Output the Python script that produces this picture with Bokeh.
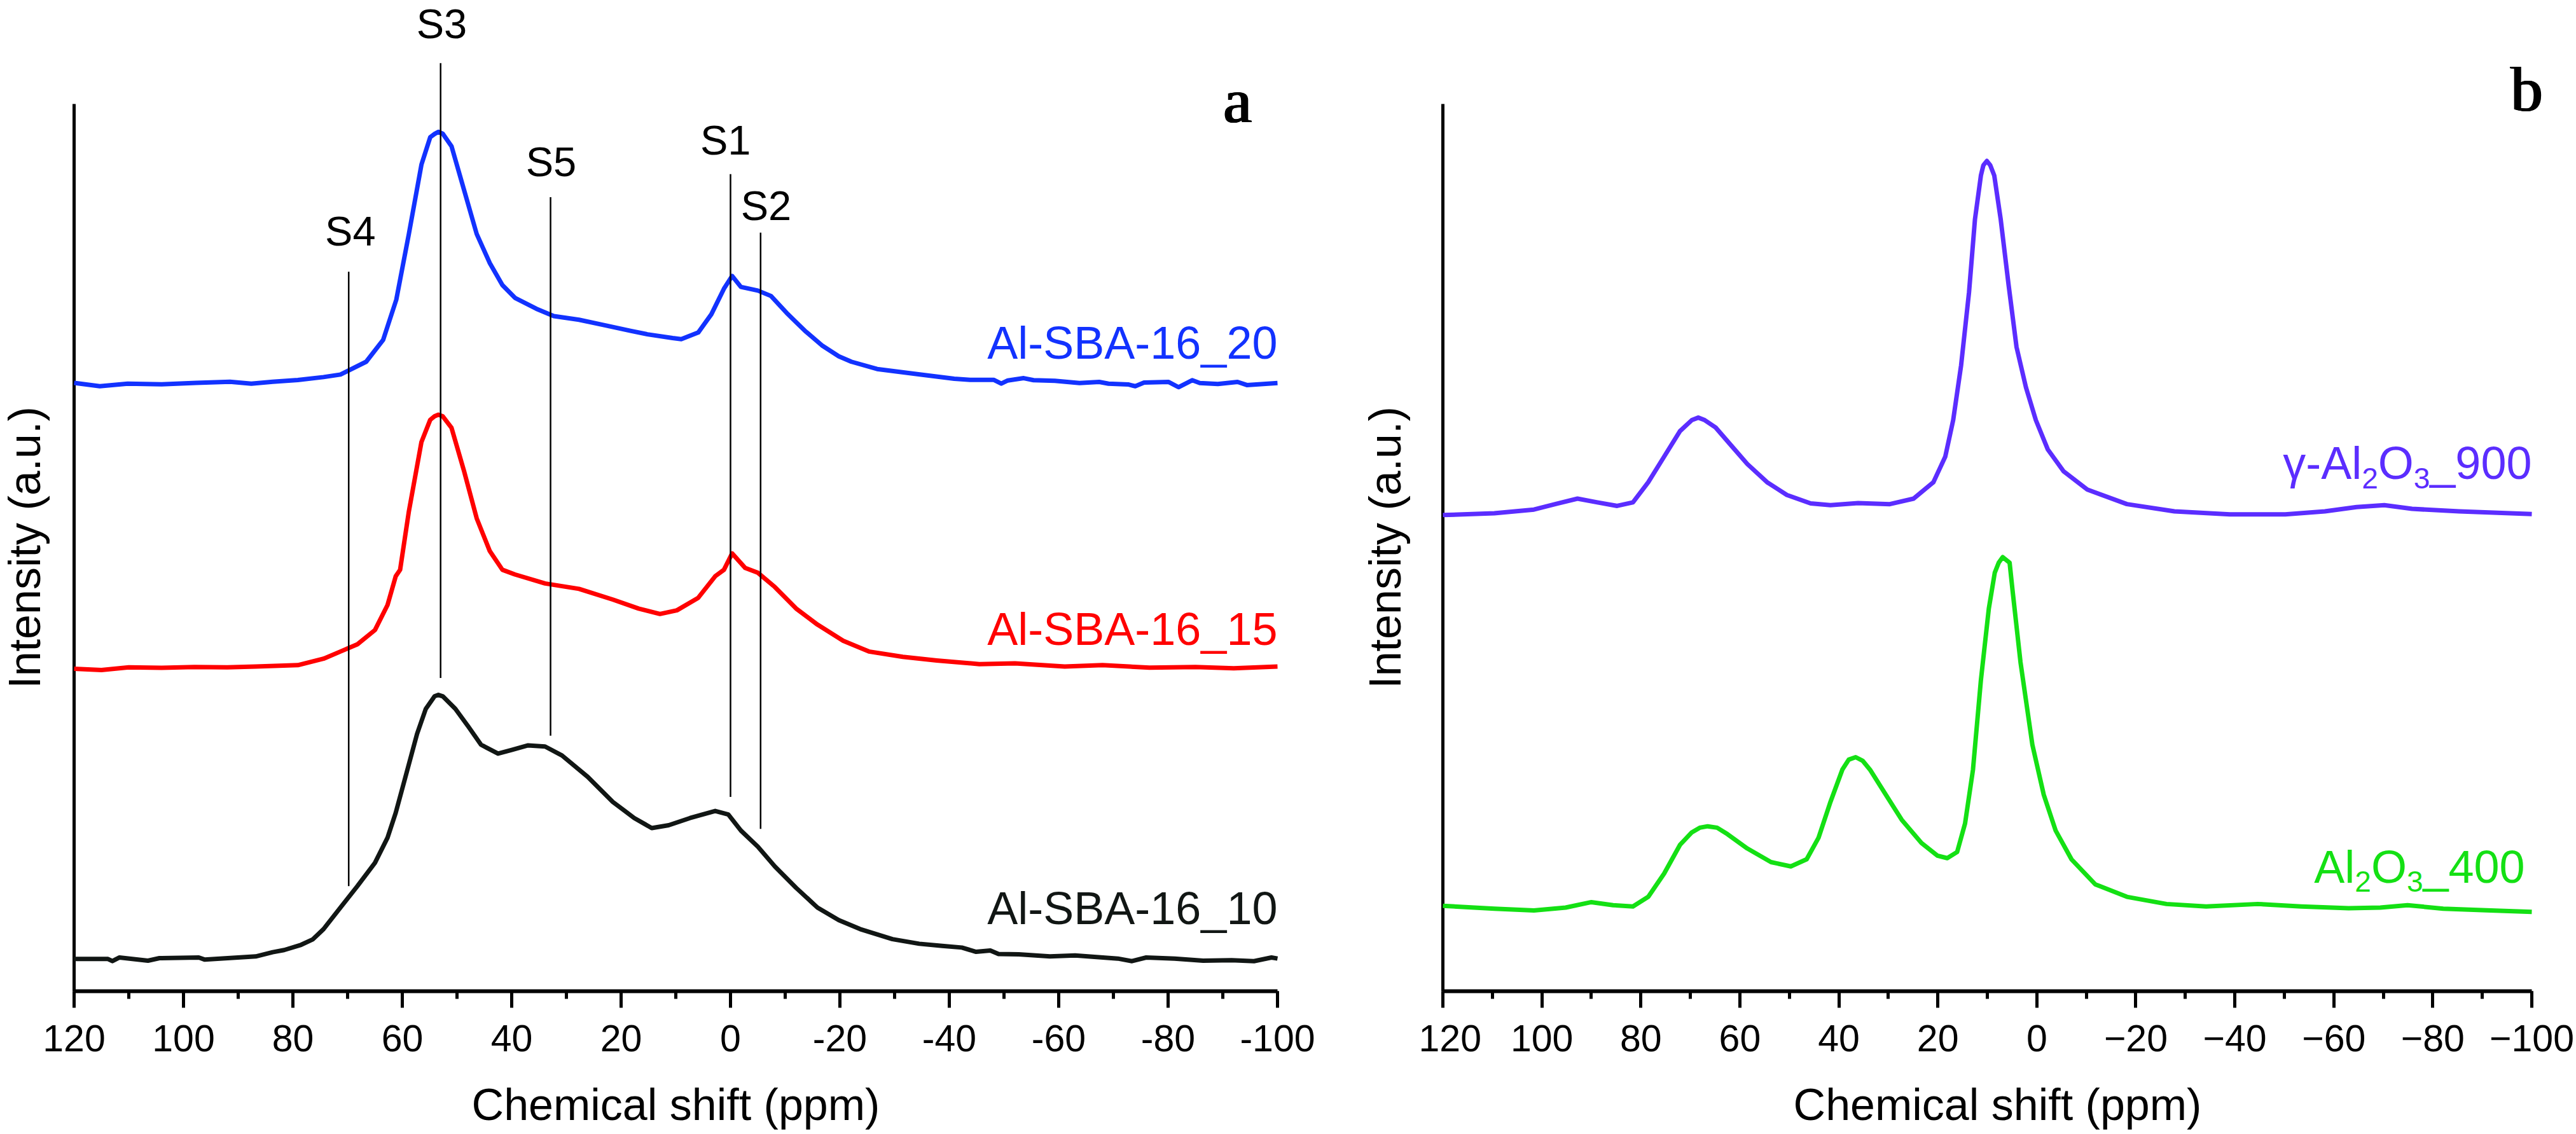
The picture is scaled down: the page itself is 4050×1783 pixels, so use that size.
from math import pi

from bokeh.core.properties import value
from bokeh.embed import file_html
from bokeh.layouts import row
from bokeh.models import Range1d, SingleIntervalTicker
from bokeh.plotting import figure
from bokeh.resources import INLINE

# ---------------------------------------------------------------------------
# 27Al MAS NMR spectra (stacked, arbitrary intensity units)
# ---------------------------------------------------------------------------

# Panel a: Al-SBA-16 samples
sba20_ppm = [120, 115.3, 110.2, 104.0, 97.7, 91.5, 87.6, 83.7, 79.1, 74.4, 71.3, 66.6, 63.5,
             61.1, 58.8, 56.5, 54.9, 54.1, 53.4, 52.6, 51.0, 48.7, 46.4, 44.0, 41.7, 39.4,
             35.5, 32.3, 27.7, 23.0, 18.3, 15.2, 10.6, 9.0, 5.9, 3.5, 1.2, -0.3, -1.9, -5.0,
             -7.4, -10.5, -13.6, -16.7, -19.8, -22.1, -26.8, -34.6, -40.9, -43.8, -48.1,
             -49.5, -50.7, -53.6, -55.4, -59.3, -63.8, -67.4, -69.1, -72.7, -74.0, -75.6,
             -80.1, -81.9, -84.4, -85.8, -89.1, -92.7, -94.4, -100]
sba20_int = [68.56, 68.19, 68.48, 68.40, 68.56, 68.69, 68.48, 68.69, 68.89, 69.22, 69.51,
             70.95, 73.42, 77.94, 85.35, 93.17, 96.25, 96.62, 96.87, 96.65, 95.23, 90.29,
             85.35, 82.06, 79.59, 78.15, 76.92, 76.09, 75.68, 75.06, 74.44, 74.04, 73.62,
             73.50, 74.24, 76.30, 79.18, 80.62, 79.38, 78.97, 78.36, 76.30, 74.44, 72.80,
             71.56, 70.95, 70.13, 69.51, 69.03, 68.91, 68.91, 68.48, 68.84, 69.10, 68.87,
             68.80, 68.55, 68.67, 68.48, 68.39, 68.19, 68.60, 68.67, 68.08, 68.87, 68.55,
             68.44, 68.67, 68.32, 68.55]

sba15_ppm = [120, 115.0, 110.0, 104.0, 98.0, 92.0, 86.8, 79.1, 74.4, 71.3, 68.2, 65.0, 62.7,
             61.2, 60.4, 58.8, 56.5, 54.9, 54.1, 53.4, 52.6, 51.0, 48.7, 46.4, 44.0, 41.7,
             39.4, 33.9, 27.7, 21.5, 16.8, 12.9, 9.8, 5.9, 2.8, 1.2, -0.3, -2.7, -5.0, -8.1,
             -12.0, -15.9, -20.6, -25.3, -31.5, -37.7, -45.5, -52.0, -61.1, -68.0, -76.6,
             -85.0, -92.0, -100]
sba15_int = [36.35, 36.20, 36.50, 36.45, 36.55, 36.50, 36.60, 36.75, 37.48, 38.29, 39.10,
             40.71, 43.53, 46.77, 47.50, 54.08, 61.90, 64.40, 64.80, 64.98, 64.80, 63.50,
             58.60, 53.30, 49.60, 47.50, 46.97, 45.96, 45.35, 44.14, 43.13, 42.52, 42.93,
             44.34, 46.77, 47.50, 49.35, 47.70, 47.17, 45.56, 43.13, 41.32, 39.50, 38.29,
             37.69, 37.28, 36.87, 36.95, 36.60, 36.75, 36.47, 36.55, 36.40, 36.60]

sba10_ppm = [120, 113.8, 113.0, 111.7, 106.5, 104.4, 97.2, 96.1, 86.8, 83.7, 81.6, 78.5,
             76.4, 74.4, 71.3, 68.2, 65.0, 62.7, 61.2, 59.6, 57.3, 55.7, 54.1, 53.4, 52.6,
             50.3, 47.9, 45.6, 42.5, 40.1, 37.0, 33.9, 30.8, 26.1, 21.5, 17.6, 14.4, 11.3,
             7.4, 2.8, 0.4, -1.9, -5.0, -8.1, -12.0, -15.9, -19.8, -23.7, -29.6, -34.5,
             -38.7, -42.3, -44.9, -47.5, -49.0, -52.7, -58.4, -63.0, -70.8, -73.4, -76.0,
             -81.2, -86.4, -91.6, -95.7, -98.9, -100]
sba10_int = [3.63, 3.63, 3.39, 3.80, 3.44, 3.73, 3.80, 3.56, 3.92, 4.40, 4.64, 5.23, 5.83,
             7.00, 9.43, 11.85, 14.47, 17.30, 20.12, 23.76, 29.00, 31.83, 33.24, 33.40, 33.24,
             31.83, 29.80, 27.78, 26.78, 27.18, 27.71, 27.58, 26.57, 24.16, 21.33, 19.52,
             18.39, 18.71, 19.52, 20.32, 19.92, 18.11, 16.29, 14.07, 11.65, 9.43, 8.01,
             7.00, 5.87, 5.35, 5.11, 4.92, 4.44, 4.59, 4.20, 4.16, 3.92, 4.04, 3.68, 3.39,
             3.80, 3.68, 3.44, 3.49, 3.39, 3.80, 3.68]

# Panel b: alumina references
g900_ppm = [120, 109.6, 101.6, 96.8, 92.8, 88.8, 84.8, 81.6, 78.5, 75.3, 72.1, 69.7, 68.4,
            67.1, 64.9, 61.7, 58.5, 54.5, 50.5, 45.7, 41.7, 36.1, 29.7, 24.9, 20.9, 18.5,
            16.9, 15.3, 13.7, 12.5, 11.3, 10.8, 10.1, 9.4, 8.6, 7.3, 5.7, 4.1, 2.2, 0.2,
            -2.2, -5.4, -10.2, -18.2, -27.8, -39.0, -50.2, -58.2, -64.6, -70.2, -75.8,
            -85.3, -100]
g900_int = [53.67, 53.87, 54.29, 54.98, 55.52, 55.10, 54.70, 55.10, 57.37, 60.25, 63.13,
            64.37, 64.65, 64.37, 63.54, 61.48, 59.43, 57.37, 55.93, 54.98, 54.78, 55.02,
            54.90, 55.52, 57.37, 60.25, 64.37, 70.54, 78.77, 87.00, 91.94, 93.09, 93.58,
            93.09, 91.94, 87.00, 79.59, 72.60, 68.07, 64.37, 61.08, 58.60, 56.54, 54.90,
            54.08, 53.75, 53.75, 54.08, 54.57, 54.78, 54.37, 54.08, 53.79]

a400_ppm = [120, 109.6, 101.6, 95.2, 90.0, 85.6, 81.6, 78.5, 75.3, 72.1, 69.7, 68.1, 66.5,
            64.6, 62.5, 58.5, 53.7, 49.7, 46.5, 44.1, 41.7, 39.3, 38.0, 36.6, 35.2, 33.7,
            30.5, 27.3, 23.3, 20.1, 18.1, 16.1, 14.5, 12.9, 11.3, 9.7, 8.5, 7.7, 6.9, 5.5,
            4.9, 3.3, 0.9, -1.4, -3.8, -7.0, -11.8, -18.2, -26.2, -34.2, -44.6, -53.4,
            -63.0, -69.4, -74.9, -82.1, -91.7, -100]
a400_int = [9.63, 9.30, 9.10, 9.43, 10.04, 9.70, 9.55, 10.64, 13.26, 16.49, 17.91, 18.43,
            18.59, 18.43, 17.70, 16.09, 14.55, 14.07, 14.87, 17.30, 21.33, 24.97, 26.10,
            26.38, 25.98, 24.97, 22.14, 19.32, 16.70, 15.28, 15.00, 15.69, 18.91, 24.97,
            35.06, 43.13, 47.17, 48.30, 48.93, 48.30, 45.15, 37.08, 27.78, 22.14, 18.11,
            14.87, 12.05, 10.64, 9.83, 9.55, 9.83, 9.55, 9.35, 9.43, 9.70, 9.30, 9.10, 8.94]

# Site assignments marked in panel a
site_names = ["S1", "S2", "S3", "S4", "S5"]
site_ppm = [0.0, -5.5, 53.0, 69.8, 32.9]
site_line_top = [92.1, 85.5, 104.6, 81.1, 89.5]
site_line_bottom = [21.9, 18.3, 35.3, 11.85, 28.8]
site_label_ppm = [0.9, -6.5, 52.8, 69.5, 32.8]
site_label_y = [94.5, 87.1, 107.6, 84.3, 92.1]

# Sample names
sba_names = ["Al-SBA-16_20", "Al-SBA-16_15", "Al-SBA-16_10"]
sba_colors = ["#1232ff", "#ff0000", "#111614"]
sba_label_y = [71.5, 39.3, 7.8]

# Axis ticks
tick_values = [120, 100, 80, 60, 40, 20, 0, -20, -40, -60, -80, -100]
tick_labels_a = ["120", "100", "80", "60", "40", "20", "0", "-20", "-40", "-60", "-80", "-100"]
tick_labels_b = ["120", "100", "80", "60", "40", "20", "0", "\u221220", "\u221240",
                 "\u221260", "\u221280", "\u2212100"]

SANS = "Liberation Sans"
SERIF = "Liberation Serif"
LINE_W = 7

# page geometry (pixels)
TOTAL_W = 4050
HEIGHT = 1783
AXIS_Y = 1558         # y of the ppm axis line
BOTTOM = HEIGHT - AXIS_Y
PX_PER_UNIT = 13.95   # vertical scale, pixels per intensity unit
Y_MAX = AXIS_Y / PX_PER_UNIT
PANEL_A_W = 2124
GAP_W = 106
PANEL_B_W = TOTAL_W - PANEL_A_W - GAP_W
# where 120 ppm and -100 ppm sit inside each panel
A_LEFT, A_RIGHT = 116, 2008
B_LEFT, B_RIGHT = 2268 - PANEL_A_W - GAP_W, 3980 - PANEL_A_W - GAP_W


def lift(size_px):
    """Baseline correction (intensity units) for text set on the alphabetic baseline."""
    return 0.3 * size_px / PX_PER_UNIT


def make_panel(width, px_left, px_right, tick_labels):
    ppp = (px_right - px_left) / 220.0
    x_start = 120 + px_left / ppp
    x_end = -100 - (width - px_right) / ppp
    p = figure(width=width, height=HEIGHT,
               x_range=Range1d(x_start, x_end), y_range=Range1d(0, Y_MAX),
               output_backend="svg", toolbar_location=None, y_axis_type=None,
               min_border_left=0, min_border_right=0,
               min_border_top=0, min_border_bottom=BOTTOM)
    p.outline_line_color = None
    p.grid.visible = False
    p.background_fill_color = "white"

    xa = p.xaxis[0]
    xa.bounds = (-100, 120)
    xa.ticker = SingleIntervalTicker(interval=20, num_minor_ticks=2)
    xa.major_label_overrides = dict(zip(tick_values, tick_labels))
    xa.axis_line_width = 6
    xa.axis_line_color = "black"
    xa.major_tick_in = 0
    xa.major_tick_out = 26
    xa.minor_tick_in = 0
    xa.minor_tick_out = 12
    xa.major_tick_line_width = 5
    xa.minor_tick_line_width = 5
    xa.major_label_text_font = SANS
    xa.major_label_text_font_size = "59px"
    xa.major_label_text_color = "black"
    xa.major_label_standoff = 27
    xa.axis_label = "Chemical shift (ppm)"
    xa.axis_label_text_font = SANS
    xa.axis_label_text_font_size = "70px"
    xa.axis_label_text_font_style = "normal"
    xa.axis_label_text_color = "black"
    xa.axis_label_standoff = 42

    # left spine of the intensity scale
    p.segment(x0=[120], y0=[0], x1=[120], y1=[100], line_width=5, line_color="black")
    return p, ppp


def intensity_label(p, x):
    p.text(x=[x], y=[50], text=["Intensity (a.u.)"],
           angle=pi / 2, text_align="center", text_baseline="middle",
           text_font=value(SANS), text_font_size="70px", text_color="black",
           level="overlay")


def panel_letter(p, ppp, x, y, letter):
    # heavy serif panel letter (a few overlapping strikes give the bold stem)
    for dx in (-1.5, -0.5, 0.5, 1.5):
        p.text(x=[x - dx / ppp], y=[y + lift(100)], text=[letter], text_align="center",
               text_baseline="alphabetic", text_font=value(SERIF),
               text_font_size="100px", text_color="black", level="overlay")


# ---------------------------- panel a ----------------------------
pa, ppp_a = make_panel(PANEL_A_W, A_LEFT, A_RIGHT, tick_labels_a)

for xs, ys, c in [(sba20_ppm, sba20_int, sba_colors[0]),
                  (sba15_ppm, sba15_int, sba_colors[1]),
                  (sba10_ppm, sba10_int, sba_colors[2])]:
    pa.line(xs, ys, line_width=LINE_W, line_color=c, line_join="round")

pa.segment(x0=site_ppm, y0=site_line_bottom, x1=site_ppm, y1=site_line_top,
           line_width=2.5, line_color="black")
pa.text(x=site_label_ppm, y=[v + lift(65) for v in site_label_y], text=site_names,
        text_align="center", text_baseline="alphabetic",
        text_font=value(SANS), text_font_size="65px", text_color="black")

pa.text(x=[-100] * 3, y=[v + lift(72) for v in sba_label_y], text=sba_names,
        text_color=sba_colors, text_align="right", text_baseline="alphabetic",
        text_font=value(SANS), text_font_size="72px")

intensity_label(pa, 120 + (A_LEFT - 38) / ppp_a)
panel_letter(pa, ppp_a, -92.7, 98.2, "a")

# ------------------- strip holding the panel b intensity title -------------------
gap = figure(width=GAP_W, height=HEIGHT, x_range=Range1d(0, GAP_W),
             y_range=Range1d(0, Y_MAX), output_backend="svg", toolbar_location=None,
             x_axis_type=None, y_axis_type=None,
             min_border_left=0, min_border_right=0, min_border_top=0,
             min_border_bottom=BOTTOM)
gap.outline_line_color = None
gap.grid.visible = False
intensity_label(gap, GAP_W / 2)

# ---------------------------- panel b ----------------------------
pb, ppp_b = make_panel(PANEL_B_W, B_LEFT, B_RIGHT, tick_labels_b)

g900_color = "#5b2dff"
a400_color = "#14e014"
pb.line(g900_ppm, g900_int, line_width=LINE_W, line_color=g900_color, line_join="round")
pb.line(a400_ppm, a400_int, line_width=LINE_W, line_color=a400_color, line_join="round")

SUB_DROP = 16 / PX_PER_UNIT  # subscript baseline drop in intensity units
BIG, SMALL = 72, 46


def formula_label(p, ppp, x_right, y_base, head, tail, color):
    # "<head>2O3<tail>" set right to left with real subscripts
    pieces = [(tail, BIG, 0.0, 0.556 * BIG * len(tail)),
              ("3", SMALL, SUB_DROP, 0.556 * SMALL),
              ("O", BIG, 0.0, 0.778 * BIG),
              ("2", SMALL, SUB_DROP, 0.556 * SMALL),
              (head, BIG, 0.0, 0.0)]
    shift = 0.0
    for txt, size, drop, w in pieces:
        p.text(x=[x_right + shift / ppp], y=[y_base - drop + lift(size)], text=[txt],
               text_align="right", text_baseline="alphabetic",
               text_font=value(SANS), text_font_size=f"{size}px", text_color=color)
        shift += w


formula_label(pb, ppp_b, -100, 58.0, "\u03b3-Al", "_900", g900_color)
formula_label(pb, ppp_b, -98.6, 12.5, "Al", "_400", a400_color)

panel_letter(pb, ppp_b, -98.96, 99.5, "b")

layout = row(pa, gap, pb)
open("out.html", "w").write(file_html(layout, INLINE))
